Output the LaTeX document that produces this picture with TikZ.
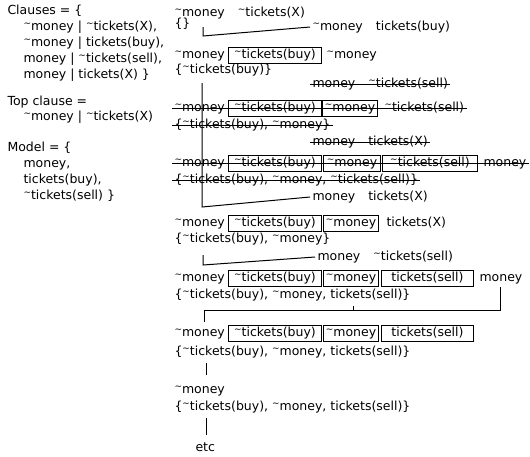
\documentclass[tikz,border=0pt]{standalone}
\usepackage{fontspec}
\setmainfont{DejaVu Sans}
\usetikzlibrary{positioning}
\newcommand*{\tld}{{\fontsize{9}{9}\selectfont\raisebox{3.5pt}{\textasciitilde}}}

\begin{document}
\begin{tikzpicture}[x=1pt, y=-1pt, line width=1pt, font=\fontsize{12.5}{15}\selectfont,
  node distance=8pt,
  txt/.style={anchor=west, inner sep=2pt, text height=9.5pt, text depth=3pt},
  lit/.style={txt, draw, inner sep=0pt, minimum height=16pt}]
\useasboundingbox (0,0) rectangle (530,456);
% clauses, top clause and model
\node[txt] (cl) at (5,11) {Clauses = \{};
\node[txt] (cl1) at (21,27) {\tld money | \tld tickets(X),};
\node[txt] (cl2) at (21,43) {\tld money | tickets(buy),};
\node[txt] (cl3) at (21,59) {money | \tld tickets(sell),};
\node[txt] (cl4) at (21,75) {money | tickets(X) \}};
\node[txt] (top) at (5,102) {Top clause =};
\node[txt] (top1) at (21,117) {\tld money | \tld tickets(X)};
\node[txt] (mod) at (5,148) {Model = \{};
\node[txt] (mod1) at (21,164) {money,};
\node[txt] (mod2) at (21,180) {tickets(buy),};
\node[txt] (mod3) at (21,196) {\tld tickets(sell) \}};
% start
\node[txt] (a0) at (172,13) {\tld money};
\node[txt, right=of a0] (a1) {\tld tickets(X)};
\node[txt] (a0s) at (172,24) {\{\}};
\coordinate (c1) at (203,27);
\node[txt] (b0) at (310,27) {\tld money};
\node[txt, right=of b0] (b1) {tickets(buy)};
\draw (c1) -- ++(0,9) -- (b0.west);
% extension by ~tickets(buy)
\node[txt] (d0) at (172,55) {\tld money};
\node[lit, minimum width=93] (d1) at (228,55) {\tld tickets(buy)};
\node[txt] (d2) at (324,55) {\tld money};
\node[txt] (d0s) at (172,70) {\{\tld tickets(buy)\}};
% struck out branch
\node[txt] (e0) at (310,84) {money};
\node[txt, right=of e0] (e1) {\tld tickets(sell)};
\draw (e0.west) -- (e1.east);
\node[txt] (f0) at (172,108) {\tld money};
\node[lit, minimum width=93] (f1) at (228,108) {\tld tickets(buy)};
\node[lit, minimum width=55] (f2) at (322,108) {\tld money};
\node[txt] (f3) at (382,108) {\tld tickets(sell)};
\draw (f0.west) -- (f3.east);
\node[txt] (f0s) at (172,125) {\{\tld tickets(buy), \tld money\}};
\draw (f0s.west) -- (f0s.east);
\node[txt] (g0) at (310,142) {money};
\node[txt, right=of g0] (g1) {tickets(X)};
\draw (g0.west) -- (g1.east);
\node[txt] (h0) at (172,163) {\tld money};
\node[lit, minimum width=93] (h1) at (228,163) {\tld tickets(buy)};
\node[lit, minimum width=57] (h2) at (323,163) {\tld money};
\node[lit, minimum width=95] (h3) at (382,163) {\tld tickets(sell)};
\node[txt] (h4) at (481,163) {money};
\draw (h0.west) -- (h4.east);
\node[txt] (h0s) at (172,180) {\{\tld tickets(buy), \tld money, \tld tickets(sell)\}};
\draw (h0s.west) -- (h0s.east);
% backtrack
\coordinate (c2) at (202,83);
\node[txt] (i0) at (310,197) {money};
\node[txt, right=of i0] (i1) {tickets(X)};
\draw (c2) -- ++(0,124) -- (i0.west);
\node[txt] (j0) at (172,223) {\tld money};
\node[lit, minimum width=93] (j1) at (228,223) {\tld tickets(buy)};
\node[lit, minimum width=55] (j2) at (323,223) {\tld money};
\node[txt] (j3) at (384,223) {tickets(X)};
\node[txt] (j0s) at (172,239) {\{\tld tickets(buy), \tld money\}};
\coordinate (c3) at (203,255);
\node[txt] (k0) at (315,257) {money};
\node[txt, right=of k0] (k1) {\tld tickets(sell)};
\draw (c3) -- ++(0,10) -- (k0.west);
\node[txt] (l0) at (172,278) {\tld money};
\node[lit, minimum width=93] (l1) at (228,278) {\tld tickets(buy)};
\node[lit, minimum width=55] (l2) at (323,278) {\tld money};
\node[lit, minimum width=92] (l3) at (381,278) {tickets(sell)};
\node[txt] (l4) at (477,278) {money};
\node[txt] (l0s) at (172,295) {\{\tld tickets(buy), \tld money, tickets(sell)\}};
% reduction
\coordinate (c4) at (204,310);
\coordinate (c4t) at (353,306);
\draw (l4.south) |- (c4) -- ++(0,12);
\draw (c4t) -- (c4t |- c4);
\node[txt] (m0) at (172,333) {\tld money};
\node[lit, minimum width=93] (m1) at (228,333) {\tld tickets(buy)};
\node[lit, minimum width=55] (m2) at (323,333) {\tld money};
\node[lit, minimum width=92] (m3) at (381,333) {tickets(sell)};
\node[txt] (m0s) at (172,352) {\{\tld tickets(buy), \tld money, tickets(sell)\}};
\coordinate (p1) at (206,363);
\draw (p1) -- ++(0,12);
\node[txt] (n0) at (172,390) {\tld money};
\node[txt] (n0s) at (172,407) {\{\tld tickets(buy), \tld money, tickets(sell)\}};
\coordinate (p2) at (206,418);
\draw (p2) -- ++(0,17);
\node[txt] (etc) at (193,448) {etc};
\end{tikzpicture}
\end{document}
